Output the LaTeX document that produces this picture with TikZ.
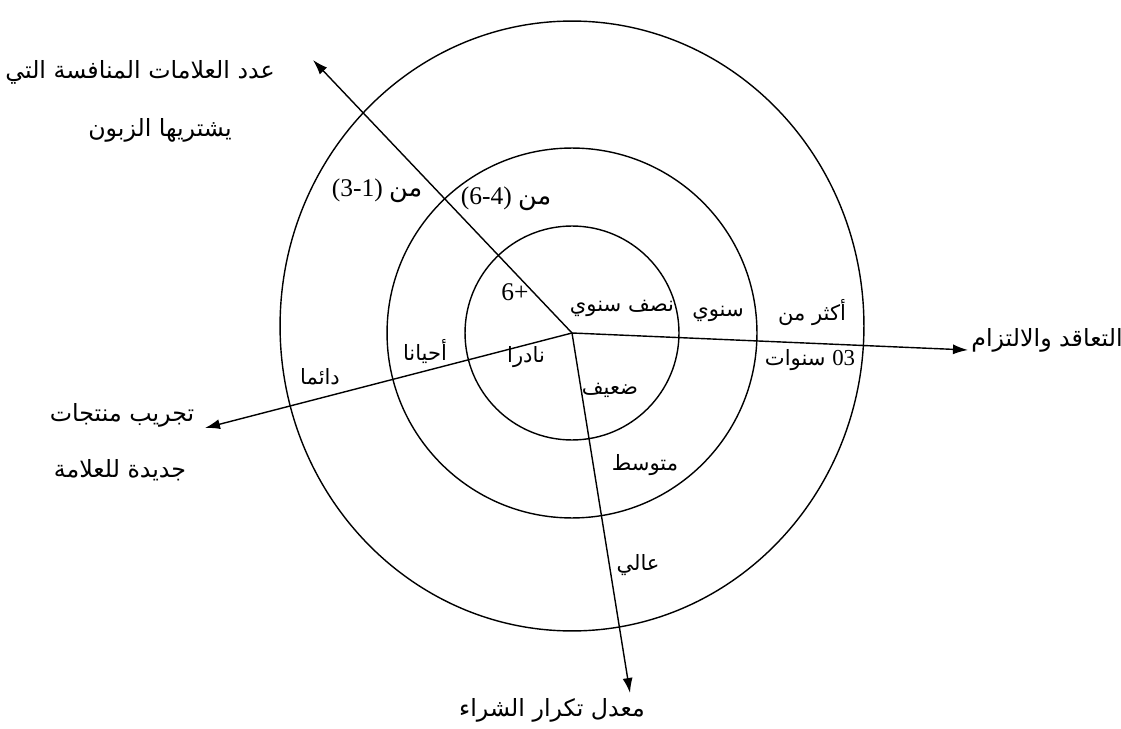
\documentclass[tikz,border=0pt]{standalone}
\usepackage{fontspec}
\setmainfont{Liberation Serif}
\newfontfamily\arabicfont[Script=Arabic]{DejaVu Sans}
\TeXXeTstate=1
\usetikzlibrary{arrows.meta,positioning}
\tikzset{
  ring/.style={draw,line width=0.8pt},
  axis/.style={-{Latex[length=3mm,width=2mm]},line width=0.8pt},
  lbl/.style={inner sep=1pt,font=\fontsize{12}{14}\selectfont\arabicfont},
  title/.style={inner sep=1pt,font=\fontsize{13.5}{16}\selectfont\arabicfont},
  num/.style={inner sep=1pt,font=\fontsize{14.5}{17}\selectfont},
}
\newcommand{\ar}[1]{{\arabicfont\beginR #1\endR}}

\begin{document}
\begin{tikzpicture}[x=0.02cm,y=-0.02cm]
\useasboundingbox (0,0) rectangle (1121,729);

% the three rings
\coordinate (o) at (572,333);
\draw[ring] (o) circle [radius=2.14cm];
\draw[ring] (o) circle [radius=3.7cm];
\draw[ring] (572,326) ellipse [x radius=5.84cm, y radius=6.1cm];

% axis ends
\coordinate (brandend) at (313,60);
\coordinate (commitend) at (968,350);
\coordinate (tryend) at (205,428);
\coordinate (rateend) at (630,693);

\draw[axis] (o) -- (brandend);
\draw[axis] (o) -- (commitend);
\draw[axis] (o) -- (tryend);
\draw[axis] (o) -- (rateend);

% axis titles
\node[title] (brand1) at (140,72) {\ar{عدد العلامات المنافسة التي}};
\node[title] (brand2) at (160,130) {\ar{يشتريها الزبون}};
\node[title] (commit) at (1047,340) {\ar{التعاقد والالتزام}};
\node[title] (try1) at (122,415) {\ar{تجريب منتجات}};
\node[title] (try2) at (120,470) {\ar{جديدة للعلامة}};
\node[title] (rate) at (552,710) {\ar{معدل تكرار الشراء}};

% brands axis
\node[num] (b3) at (515,292) {6+};
\node[num] (b2) at (506,199) {(6-4) \ar{من}};
\node[num] (b1) at (377,191) {(3-1) \ar{من}};

% commitment axis
\node[lbl] (c1) at (622,308) {\ar{نصف سنوي}};
\node[lbl] (c2) at (718,314) {\ar{سنوي}};
\node[lbl] (c3) at (812,313) {\ar{أكثر من}};
\node[lbl] (c4) at (810,360) {\ar{سنوات} {\rmfamily\fontsize{13}{15}\selectfont 03}};

% trial axis
\node[lbl] (t1) at (526,357) {\ar{نادرا}};
\node[lbl] (t2) at (425,352) {\ar{أحيانا}};
\node[lbl] (t3) at (320,377) {\ar{دائما}};

% rate axis
\node[lbl] (r1) at (610,390) {\ar{ضعيف}};
\node[lbl] (r2) at (645,465) {\ar{متوسط}};
\node[lbl] (r3) at (638,565) {\ar{عالي}};
\end{tikzpicture}
\end{document}
